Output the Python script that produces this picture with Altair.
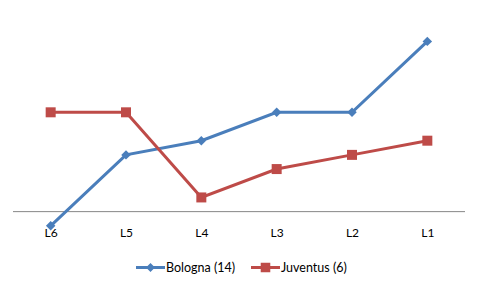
import altair as alt
import pandas as pd

categories = ["L6", "L5", "L4", "L3", "L2", "L1"]
bologna = [-1, 4, 5, 7, 7, 12]
juventus = [7, 7, 1, 3, 4, 5]
series_names = ["Bologna (14)", "Juventus (6)"]
colors = ["#4A7EBB", "#BE4B48"]
marker_shapes = ["diamond", "square"]
marker_sizes = [90, 100]

rows = []
for name, vals in zip(series_names, [bologna, juventus]):
    for c, v in zip(categories, vals):
        rows.append({"series": name, "cat": c, "value": v})
df = pd.DataFrame(rows)

FONT = "Lato"

x = alt.X(
    "cat:N",
    sort=categories,
    scale=alt.Scale(type="point", padding=0.5),
    axis=alt.Axis(
        title=None, ticks=False, domain=False, grid=False, labelAngle=0,
        offset=-15, labelPadding=2, labelFont=FONT, labelFontSize=12,
        labelColor="#000000",
    ),
)
y = alt.Y("value:Q", scale=alt.Scale(domain=[-2, 14], nice=False, zero=False), axis=None)

base = alt.Chart(df)

baseline = alt.Chart(pd.DataFrame({"v": [0]})).mark_rule(color="#868686", strokeWidth=1).encode(
    y=alt.Y("v:Q", scale=alt.Scale(domain=[-2, 14], nice=False, zero=False), axis=None)
)

series_layers = []
for name, shp, sz, col in zip(series_names, marker_shapes, marker_sizes, colors):
    sub = base.transform_filter(alt.datum.series == name)
    series_layers.append(sub.mark_line(strokeWidth=3, color=col).encode(x=x, y=y))
    series_layers.append(
        sub.mark_point(filled=True, opacity=1, shape=shp, size=sz, color=col).encode(x=x, y=y)
    )

path_diamond = "M-1,-0.1H1V0.1H-1Z M0,-0.31L0.31,0L0,0.31L-0.31,0Z"
path_square = "M-1,-0.1H1V0.1H-1Z M-0.33,-0.33H0.33V0.33H-0.33Z"

leg = alt.Legend(
    title=None, orient="none", legendX=123, legendY=240, direction="horizontal",
    symbolSize=841, symbolOpacity=1, symbolStrokeWidth=0,
    labelFont=FONT, labelFontSize=12.5, labelColor="#000000",
    columnPadding=15, labelOffset=1,
)

legend_layer = base.mark_point(filled=True, opacity=0).encode(
    x=x, y=y,
    fill=alt.Fill("series:N", scale=alt.Scale(domain=series_names, range=colors), legend=leg),
    shape=alt.Shape("series:N", scale=alt.Scale(domain=series_names, range=[path_diamond, path_square]), legend=leg),
)

chart = (
    alt.layer(baseline, *series_layers, legend_layer)
    .properties(
        width=452, height=227,
        autosize=alt.AutoSizeParams(type="none"),
        padding={"left": 13, "top": 13, "right": 14, "bottom": 47},
        background="white",
    )
    .configure_view(stroke=None)
)

chart.save("out.html", embed_options={"renderer": "svg", "actions": False})
